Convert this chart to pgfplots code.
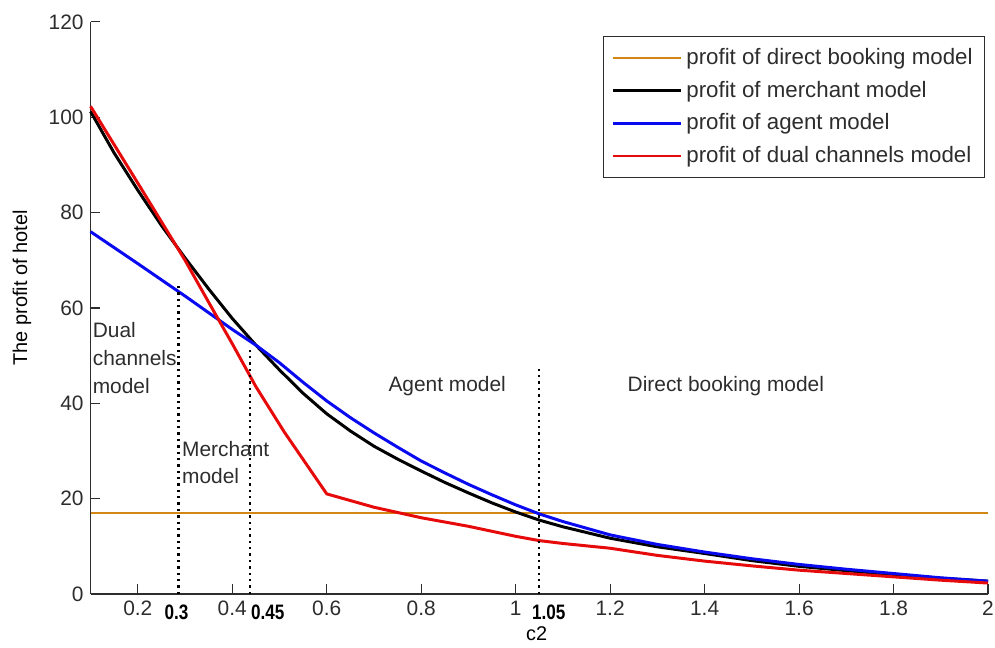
\documentclass[border=0pt]{standalone}
\usepackage{pgfplots}
\pgfplotsset{compat=1.18}
\usepackage{fontspec}
\setmainfont{Liberation Sans}
\usetikzlibrary{calc}
\definecolor{dbook}{RGB}{210,135,20}
\definecolor{merch}{RGB}{0,0,0}
\definecolor{agent}{RGB}{10,10,240}
\definecolor{dual}{RGB}{230,10,10}
\definecolor{txt}{RGB}{45,45,45}
\begin{document}
\begin{tikzpicture}
\begin{axis}[
  scale only axis,
  width=451pt, height=287.5pt,
  xmin=0.1, xmax=2, ymin=0, ymax=120,
  axis x line=bottom, axis y line=left,
  axis line style={-, draw=txt, line width=0.7pt},
  tick align=inside,
  major tick length=5pt,
  tick style={draw=txt, line width=0.6pt},
  xtick={0.2,0.4,0.6,0.8,1,1.2,1.4,1.6,1.8,2},
  ytick={0,20,40,60,80,100,120},
  /pgf/number format/assume math mode=true,
  /pgf/number format/fixed,
  ticklabel style={font=\fontsize{10.5}{12}\selectfont, text=txt},
  xlabel={c2},
  ylabel={The profit of hotel},
  label style={font=\fontsize{10.5}{12}\selectfont, text=txt},
  every axis x label/.style={at={(axis description cs:0.497,0)}, anchor=center, yshift=-20pt},
  every axis y label/.style={at={(axis description cs:-0.0765,0.535)}, rotate=90, anchor=center},
  legend style={at={(axis description cs:0.9967,0.9755)}, anchor=north east,
    draw=txt, line width=0.6pt, font=\fontsize{11.2}{12.5}\selectfont, text=txt,
    row sep=2.8pt, inner xsep=4pt, inner ysep=4pt},
  legend cell align=left,
  legend image code/.code={\draw[#1] (0pt,0pt) -- (34pt,0pt);},
  clip=false,
]
\addplot[dbook, line width=1.1pt] coordinates {(0.1,17) (2,17)};
\addlegendentry{profit of direct booking model}
\addplot[merch, line width=1.5pt] coordinates {
(0.1,101.2) (0.15,92.5) (0.2,84.7) (0.25,77.3) (0.3,70.5) (0.35,64) (0.4,57.8) (0.45,52.2)
(0.5,47) (0.55,42.1) (0.6,37.8) (0.65,34.2) (0.7,31) (0.75,28.3) (0.8,25.8) (0.85,23.4) (0.9,21.2) (0.95,19.1) (1.0,17.2) (1.05,15.5)
(1.1,14.1) (1.2,11.7) (1.3,9.9) (1.4,8.5) (1.5,7) (1.6,5.8) (1.7,4.9) (1.8,4.1) (1.9,3.3) (2.0,2.7)};
\addlegendentry{profit of merchant model}
\addplot[agent, line width=1.5pt] coordinates {
(0.1,76) (0.2,69.3) (0.3,62.5) (0.4,55.5) (0.45,52.2) (0.5,48.5) (0.55,44.4) (0.6,40.5) (0.65,37) (0.7,33.8)
(0.75,30.8) (0.8,27.9) (0.85,25.4) (0.9,23) (0.95,20.8) (1.0,18.7) (1.05,16.8) (1.1,15.2) (1.2,12.4) (1.3,10.4) (1.4,8.8)
(1.5,7.4) (1.6,6.2) (1.7,5.2) (1.8,4.3) (1.9,3.4) (2.0,2.7)};
\addlegendentry{profit of agent model}
\addplot[dual, line width=1.5pt] coordinates {
(0.1,102.3) (0.2,86.2) (0.3,70) (0.35,61.2) (0.4,52.5) (0.45,43.5) (0.51,34)
(0.6,21) (0.7,18.2) (0.8,16) (0.9,14.2) (1.0,12.1) (1.05,11.2) (1.1,10.6) (1.2,9.6)
(1.3,8.1) (1.4,6.9) (1.5,5.9) (1.6,5.0) (1.7,4.3) (1.8,3.6) (1.9,2.9) (2.0,2.3)};
\addlegendentry{profit of dual channels model}
\addplot[black, dotted, line width=1.2pt, forget plot] coordinates {(0.286,0) (0.286,65)};
\addplot[black, dotted, line width=1.2pt, forget plot] coordinates {(0.438,0) (0.438,51.5)};
\addplot[black, dotted, line width=1.2pt, forget plot] coordinates {(1.049,0) (1.049,48)};
\node[anchor=north west, inner sep=0pt, align=left, text=txt, font=\fontsize{10.5}{14}\selectfont] at (axis cs:0.104,57) {Dual\\channels\\model};
\node[anchor=north west, inner sep=0pt, align=left, text=txt, font=\fontsize{10.5}{13.5}\selectfont] at (axis cs:0.293,32) {Merchant\\model};
\node[anchor=center, inner sep=0pt, text=txt, font=\fontsize{10.5}{12}\selectfont] at (axis cs:0.855,43.6) {Agent model};
\node[anchor=center, inner sep=0pt, text=txt, font=\fontsize{10.5}{12}\selectfont] at (axis cs:1.445,43.6) {Direct booking model};
\node[anchor=center, inner sep=0pt, text=black, font=\bfseries\fontsize{10.5}{12}\selectfont, xscale=0.82] at (axis cs:0.282,0) [yshift=-9pt] {0.3};
\node[anchor=center, inner sep=0pt, text=black, font=\bfseries\fontsize{10.5}{12}\selectfont, xscale=0.82] at (axis cs:0.475,0) [yshift=-9pt] {0.45};
\node[anchor=center, inner sep=0pt, text=black, font=\bfseries\fontsize{10.5}{12}\selectfont, xscale=0.82] at (axis cs:1.07,0) [yshift=-9pt] {1.05};
\end{axis}
\pgfresetboundingbox
\path[use as bounding box] ($(current axis.south west)+(-45.5pt,-27pt)$) rectangle ($(current axis.north east)+(3.5pt,11pt)$);
\end{tikzpicture}
\end{document}
